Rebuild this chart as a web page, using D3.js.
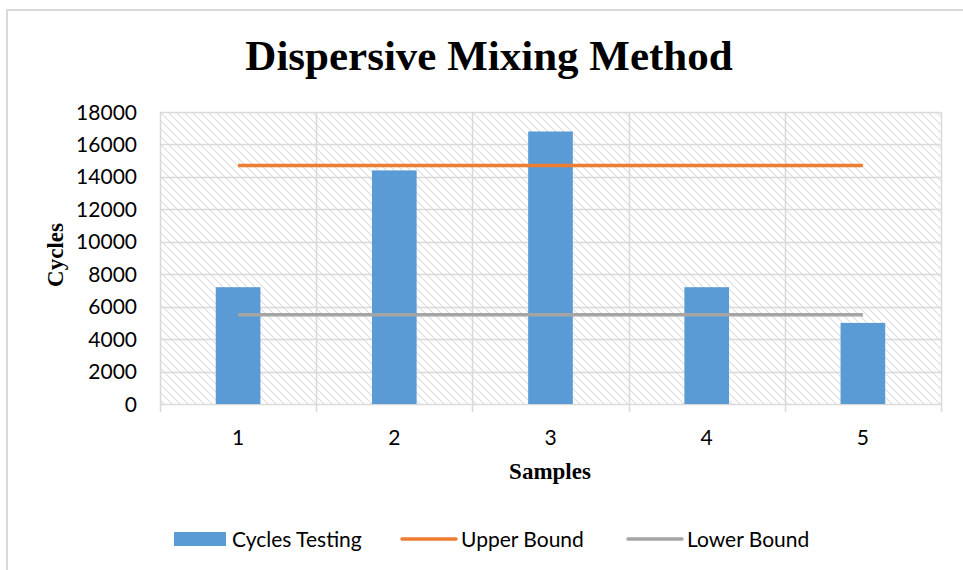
<!DOCTYPE html>
<html>
<head>
<meta charset="utf-8">
<script src="https://cdn.jsdelivr.net/npm/d3@7"></script>
<style>
  body { margin: 0; background: #fff; }
  text { fill: #000; }
</style>
</head>
<body>
<div id="chart"></div>
<script>
// data
var samples = ["1", "2", "3", "4", "5"];
var cycles = [7200, 14400, 16800, 7200, 5000];
var upperBound = [14700, 14700, 14700, 14700, 14700];
var lowerBound = [5500, 5500, 5500, 5500, 5500];
var yTicks = [0, 2000, 4000, 6000, 8000, 10000, 12000, 14000, 16000, 18000];

var W = 963, H = 570;
var margin = {top: 112, right: 22, bottom: 166, left: 160},
    width = W - margin.left - margin.right,
    height = H - margin.top - margin.bottom;

var tickFont = "Lato, 'Open Sans', sans-serif";
var serif = "'Liberation Serif', 'Times New Roman', serif";

var svg = d3.select("#chart").append("svg")
    .attr("width", W)
    .attr("height", H);

// hatch fill for the plot area
var defs = svg.append("defs");
var pat = defs.append("pattern")
    .attr("id", "hatch")
    .attr("patternUnits", "userSpaceOnUse")
    .attr("width", 8).attr("height", 8);
pat.append("rect").attr("width", 8).attr("height", 8).attr("fill", "#fff");
pat.append("path")
    .attr("d", "M-2,-2 L10,10 M-2,6 L2,10 M6,-2 L10,2")
    .attr("stroke", "#dedede")
    .attr("stroke-width", 1.1);

// chart area border (only top/left are visible in the picture)
svg.append("rect")
    .attr("x", 7).attr("y", 10)
    .attr("width", 980).attr("height", 600)
    .attr("fill", "none")
    .attr("stroke", "#d9d9d9")
    .attr("stroke-width", 2);

svg.append("text")
    .attr("x", 489).attr("y", 70)
    .attr("text-anchor", "middle")
    .style("font-family", serif)
    .style("font-weight", "bold")
    .style("font-size", "43px")
    .text("Dispersive Mixing Method");

var g = svg.append("g")
    .attr("transform", "translate(" + margin.left + "," + margin.top + ")");

var x = d3.scaleBand().domain(samples).range([0, width]);
var y = d3.scaleLinear().domain([0, 18000]).range([height, 0]);

g.append("rect")
    .attr("width", width).attr("height", height)
    .attr("fill", "url(#hatch)");

// horizontal gridlines
g.selectAll(".hgrid")
  .data(yTicks)
  .enter().append("line")
    .attr("class", "hgrid")
    .attr("x1", 0).attr("x2", width)
    .attr("y1", function(d) { return Math.round(y(d)) + 0.5; })
    .attr("y2", function(d) { return Math.round(y(d)) + 0.5; })
    .attr("stroke", "#d9d9d9")
    .attr("stroke-width", 1.5);

// vertical gridlines at category boundaries, extending below axis as ticks
var bounds = samples.map(function(s) { return x(s); }).concat([width]);
g.selectAll(".vgrid")
  .data(bounds)
  .enter().append("line")
    .attr("class", "vgrid")
    .attr("x1", function(d) { return Math.round(d) + 0.5; })
    .attr("x2", function(d) { return Math.round(d) + 0.5; })
    .attr("y1", 0).attr("y2", height + 8)
    .attr("stroke", "#d9d9d9")
    .attr("stroke-width", 1.5);

// bars
var barW = x.bandwidth() * 0.286;
g.selectAll(".bar")
  .data(cycles)
  .enter().append("rect")
    .attr("class", "bar")
    .attr("x", function(d, i) { return x(samples[i]) + x.bandwidth() / 2 - barW / 2; })
    .attr("y", function(d) { return y(d); })
    .attr("width", barW)
    .attr("height", function(d) { return height - y(d); })
    .attr("fill", "#5b9bd5");

// bound lines
var line = d3.line()
    .x(function(d, i) { return x(samples[i]) + x.bandwidth() / 2; })
    .y(function(d) { return y(d); });

g.append("path").datum(upperBound)
    .attr("d", line)
    .attr("fill", "none")
    .attr("stroke", "#ed7d31")
    .attr("stroke-width", 3.5);

g.append("path").datum(lowerBound)
    .attr("d", line)
    .attr("fill", "none")
    .attr("stroke", "#a5a5a5")
    .attr("stroke-width", 3.5);

// y tick labels
g.selectAll(".ytick")
  .data(yTicks)
  .enter().append("text")
    .attr("class", "ytick")
    .attr("x", -23)
    .attr("y", function(d) { return y(d); })
    .attr("dy", "0.36em")
    .attr("text-anchor", "end")
    .style("font-family", tickFont)
    .style("font-size", "21px")
    .text(function(d) { return d; });

// x tick labels
g.selectAll(".xtick")
  .data(samples)
  .enter().append("text")
    .attr("class", "xtick")
    .attr("x", function(d) { return x(d) + x.bandwidth() / 2; })
    .attr("y", height + 41)
    .attr("text-anchor", "middle")
    .style("font-family", tickFont)
    .style("font-size", "21px")
    .text(function(d) { return d; });

// axis titles
svg.append("text")
    .attr("transform", "translate(63,255) rotate(-90)")
    .attr("text-anchor", "middle")
    .style("font-family", serif)
    .style("font-weight", "bold")
    .style("font-size", "23px")
    .text("Cycles");

svg.append("text")
    .attr("x", 550).attr("y", 479)
    .attr("text-anchor", "middle")
    .style("font-family", serif)
    .style("font-weight", "bold")
    .style("font-size", "23px")
    .text("Samples");

// legend
var legend = svg.append("g").attr("transform", "translate(0,539)");
var items = [
  {name: "Cycles Testing", color: "#5b9bd5", type: "bar", x: 174},
  {name: "Upper Bound", color: "#ed7d31", type: "line", x: 402},
  {name: "Lower Bound", color: "#a5a5a5", type: "line", x: 628}
];
items.forEach(function(it) {
  if (it.type === "bar") {
    legend.append("rect")
      .attr("x", it.x).attr("y", -7)
      .attr("width", 52).attr("height", 14)
      .attr("fill", it.color);
  } else {
    legend.append("line")
      .attr("x1", it.x).attr("x2", it.x + 54)
      .attr("y1", 0).attr("y2", 0)
      .attr("stroke", it.color)
      .attr("stroke-width", 3.5)
      .attr("stroke-linecap", "round");
  }
  legend.append("text")
    .attr("x", it.x + (it.type === "bar" ? 58 : 59))
    .attr("y", 0)
    .attr("dy", "0.36em")
    .style("font-family", tickFont)
    .style("font-size", "21px")
    .text(it.name);
});
</script>
</body>
</html>
